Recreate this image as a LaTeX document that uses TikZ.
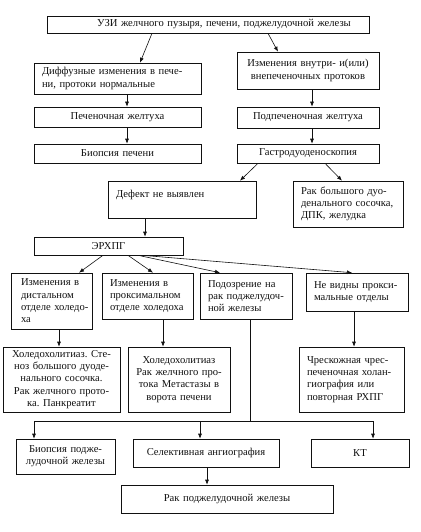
\documentclass[tikz,border=0pt]{standalone}
\usepackage{fontspec}
\setmainfont{Liberation Serif}
\usepackage{tikz}
\usetikzlibrary{arrows.meta}
\definecolor{Ink}{HTML}{111111}
\frenchspacing

\begin{document}
\begin{tikzpicture}[x=1pt,y=-1pt,
    blk/.style={draw=Ink,line width=.6pt,rectangle,inner xsep=6pt,inner ysep=1pt,
      font=\fontsize{10.6}{12.3}\selectfont,text=Ink},
    arr/.style={draw=Ink,line width=.6pt,-{Latex[length=5pt,width=4pt]}},
    ln/.style={draw=Ink,line width=.6pt}]
      \path[fill=white] (0,0) rectangle (420,532);
      \useasboundingbox (0,0) rectangle (420,532);
      \node[blk,text width=310pt,minimum height=17pt,align=center] (uzi) at (208,24.5) {\hspace*{32pt}УЗИ желчного пузыря, печени, поджелудочной железы};
      \node[blk,text width=155pt,minimum height=31pt,align=left] (diff) at (117.5,78.5) {\hspace*{2pt}Диффузные изменения в пече-\\\hspace*{2pt}ни, протоки нормальные};
      \node[blk,text width=130pt,minimum height=37pt,align=center] (vnut) at (308,70.5) {Изменения внутри- и(или)\\внепеченочных протоков};
      \node[blk,text width=155pt,minimum height=20pt,align=center] (pech) at (117.5,117) {Печеночная желтуха};
      \node[blk,text width=130pt,minimum height=21pt,align=center] (podp) at (308,117.5) {Подпеченочная желтуха};
      \node[blk,text width=155pt,minimum height=19pt,align=center] (biop) at (117.5,153.5) {Биопсия печени};
      \node[blk,text width=130pt,minimum height=19pt,align=center] (gastro) at (308,153.5) {Гастродуоденоскопия};
      \node[blk,text width=136pt,minimum height=37pt,align=left] (defect) at (182,199.5) {\hspace*{2pt}Дефект не выявлен\\\mbox{}};
      \node[blk,text width=98pt,minimum height=46pt,align=left] (rakbd) at (348,204) {\hspace*{2pt}Рак большого дуо-\\\hspace*{2pt}денального сосочка,\\\hspace*{2pt}ДПК, желудка};
      \node[blk,text width=137pt,minimum height=18pt,align=center] (erhpg) at (108.5,246) {ЭРХПГ};
      \node[blk,inner xsep=2pt,text width=77pt,minimum height=56pt,align=left] (dist) at (51.5,301) {\hspace*{8pt}\mbox{Изменения в}\\\hspace*{8pt}\mbox{дистальном}\\\hspace*{8pt}\mbox{отделе холедо-}\\\hspace*{8pt}\mbox{ха}};
      \node[blk,text width=79pt,minimum height=46pt,align=left] (prox) at (147.5,296) {\hspace*{2pt}Изменения в\\\hspace*{2pt}проксимальном\\\hspace*{2pt}отделе холедоха};
      \node[blk,text width=80pt,minimum height=46pt,align=left] (podoz) at (246,296) {\hspace*{2pt}Подозрение на\\\hspace*{2pt}рак поджелудоч-\\\hspace*{2pt}ной железы};
      \node[blk,text width=90pt,minimum height=38pt,align=left] (nevid) at (357,292) {\hspace*{2pt}Не видны прокси-\\\hspace*{2pt}мальные отделы};
      \node[blk,text width=105pt,minimum height=65pt,align=center] (hol1) at (61.5,379.5) {Холедохолитиаз. Сте-\\ноз большого дуоде-\\нального сосочка.\\Рак желчного прото-\\ка. Панкреатит};
      \node[blk,text width=90pt,minimum height=65pt,align=center] (hol2) at (179,379.5) {Холедохолитиаз\\Рак желчного про-\\тока Метастазы в\\ворота печени};
      \node[blk,text width=93pt,minimum height=65pt,align=left] (chresk) at (351.5,379.5) {\hspace*{2pt}Чрескожная чрес-\\\hspace*{2pt}печеночная холан-\\\hspace*{2pt}гиография или\\\hspace*{2pt}повторная РХПГ};
      \node[blk,text width=87pt,minimum height=35pt,align=center] (biopz) at (65.5,456.5) {Биопсия подже-\\лудочной железы};
      \node[blk,text width=134pt,minimum height=28pt,align=center] (selekt) at (206,453) {Селективная ангиография};
      \node[blk,text width=86pt,minimum height=28pt,align=center] (kt) at (360,453) {КТ};
      \node[blk,text width=200pt,minimum height=28pt,align=center] (rakpz) at (227,499) {Рак поджелудочной железы};
      \draw[arr] ([xshift=-56pt]uzi.south) -- ([xshift=22.5pt]diff.north);
      \draw[arr] ([xshift=60pt]uzi.south) -- ([xshift=-30pt]vnut.north);
      \draw[arr] ([xshift=9.5pt]diff.south) -- ([xshift=9.5pt]pech.north);
      \draw[arr] ([xshift=4pt]vnut.south) -- ([xshift=4pt]podp.north);
      \draw[arr] ([xshift=9.5pt]pech.south) -- ([xshift=9.5pt]biop.north);
      \draw[arr] ([xshift=4pt]podp.south) -- ([xshift=4pt]gastro.north);
      \draw[arr] ([xshift=-50pt]gastro.south) -- ([xshift=58pt]defect.north);
      \draw[arr] ([xshift=17pt]gastro.south) -- ([xshift=-6pt]rakbd.north);
      \draw[arr] ([xshift=-37pt]defect.south) -- ([xshift=-37pt]defect.south |- erhpg.north);
      \draw[arr] ([xshift=-5.5pt]erhpg.south) -- ([xshift=27.5pt]dist.north);
      \draw[arr] ([xshift=19.5pt]erhpg.south) -- ([xshift=5.5pt]prox.north);
      \draw[arr] ([xshift=29.5pt]erhpg.south) -- ([xshift=-26pt]podoz.north);
      \draw[arr] ([xshift=33.5pt]erhpg.south) -- ([xshift=-5pt]nevid.north);
      \draw[arr] ([xshift=7.5pt]dist.south) -- ([xshift=7.5pt]dist.south |- hol1.north);
      \draw[arr] ([xshift=15.5pt]prox.south) -- ([xshift=15.5pt]prox.south |- hol2.north);
      \draw[arr] ([xshift=-3pt]nevid.south) -- ([xshift=-3pt]nevid.south |- chresk.north);
      \coordinate (fork) at (250,421);
      \draw[ln] ([xshift=4pt]podoz.south) -- (fork);
      \draw[arr] (fork) -| ([xshift=-31.5pt]biopz.north);
      \draw[arr] (fork) -| ([xshift=-6pt]selekt.north);
      \draw[arr] (fork) -| ([xshift=13pt]kt.north);
      \draw[arr] ([xshift=1pt]selekt.south) -- ([xshift=1pt]selekt.south |- rakpz.north);
    \end{tikzpicture}
\end{document}
